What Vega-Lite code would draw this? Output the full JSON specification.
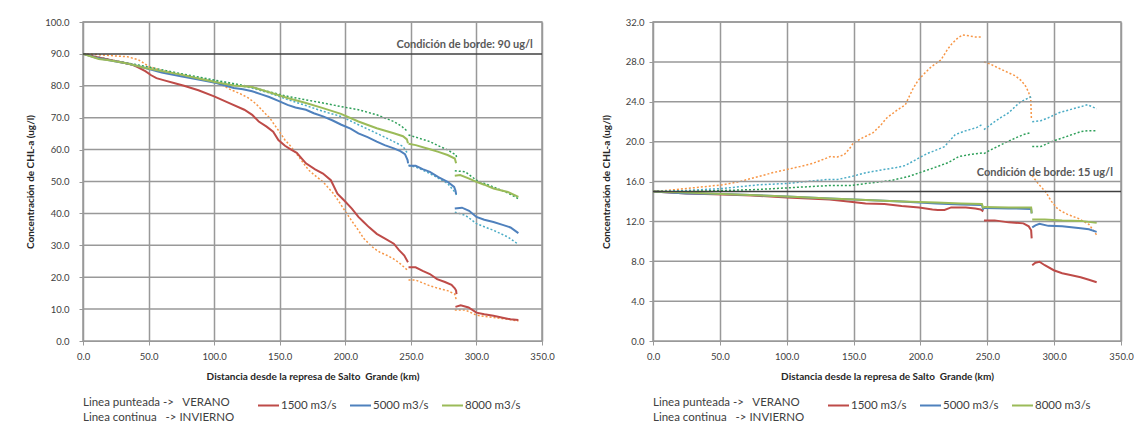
{
  "$schema": "https://vega.github.io/schema/vega-lite/v6.json",
  "padding": {"left": 24, "top": 16, "right": 0, "bottom": 0},
  "spacing": 45,
  "config": {
    "font": "Lato",
    "view": {"stroke": "#999999", "strokeWidth": 1.5},
    "axis": {
      "gridColor": "#999999", "gridWidth": 1.5, "gridOpacity": 1,
      "domainColor": "#999999", "tickColor": "#999999", "tickSize": 4,
      "labelFont": "Lato", "labelFontSize": 9.5, "labelColor": "#404040", "labelOverlap": false,
      "titleFont": "Lato", "titleFontSize": 10, "titleFontWeight": "bold", "titleColor": "#262626"
    },
    "axisX": {"labelPadding": 6, "titlePadding": 11, "labelFlush": false, "grid": true},
    "axisY": {"grid": false},
    "legend": {
      "orient": "bottom", "direction": "horizontal", "titleOrient": "left",
      "symbolType": "stroke", "symbolStrokeWidth": 2, "symbolSize": 441,
      "labelFont": "Lato", "labelFontSize": 11.5, "labelColor": "#404040", "labelOffset": 1,
      "titleFont": "Lato", "titleFontSize": 11.5, "titleFontWeight": "normal", "titleColor": "#404040",
      "titlePadding": 22, "columnPadding": 9, "offset": 12, "titleLineHeight": 15.5
    }
  },
  "resolve": {"scale": {"color": "independent"}, "legend": {"color": "independent"}},
  "datasets": {
    "izq": [
      {"serie":"1500 m3/s","tramo":1,"km":0,"conc":90},{"serie":"1500 m3/s","tramo":1,"km":10,"conc":89},{"serie":"1500 m3/s","tramo":1,"km":20,"conc":88.2},{"serie":"1500 m3/s","tramo":1,"km":30,"conc":87.3},{"serie":"1500 m3/s","tramo":1,"km":37,"conc":86.7},{"serie":"1500 m3/s","tramo":1,"km":42,"conc":85.8},{"serie":"1500 m3/s","tramo":1,"km":47.5,"conc":84.6},{"serie":"1500 m3/s","tramo":1,"km":52,"conc":83.3},{"serie":"1500 m3/s","tramo":1,"km":56,"conc":82.4},{"serie":"1500 m3/s","tramo":1,"km":62,"conc":81.7},{"serie":"1500 m3/s","tramo":1,"km":70,"conc":80.8},{"serie":"1500 m3/s","tramo":1,"km":77,"conc":80},{"serie":"1500 m3/s","tramo":1,"km":88,"conc":78.6},{"serie":"1500 m3/s","tramo":1,"km":100,"conc":76.7},{"serie":"1500 m3/s","tramo":1,"km":112,"conc":74.5},{"serie":"1500 m3/s","tramo":1,"km":123,"conc":72.5},{"serie":"1500 m3/s","tramo":1,"km":129,"conc":70.9},{"serie":"1500 m3/s","tramo":1,"km":134,"conc":68.8},{"serie":"1500 m3/s","tramo":1,"km":140,"conc":67.2},{"serie":"1500 m3/s","tramo":1,"km":145,"conc":65.6},{"serie":"1500 m3/s","tramo":1,"km":149,"conc":63},{"serie":"1500 m3/s","tramo":1,"km":154,"conc":61.2},{"serie":"1500 m3/s","tramo":1,"km":159,"conc":59.9},{"serie":"1500 m3/s","tramo":1,"km":163,"conc":59},{"serie":"1500 m3/s","tramo":1,"km":170,"conc":55.7},{"serie":"1500 m3/s","tramo":1,"km":177,"conc":53.8},{"serie":"1500 m3/s","tramo":1,"km":183,"conc":52.5},{"serie":"1500 m3/s","tramo":1,"km":189,"conc":50.4},{"serie":"1500 m3/s","tramo":1,"km":194,"conc":46.2},{"serie":"1500 m3/s","tramo":1,"km":199,"conc":44.1},{"serie":"1500 m3/s","tramo":1,"km":205,"conc":41.5},{"serie":"1500 m3/s","tramo":1,"km":210,"conc":38.9},{"serie":"1500 m3/s","tramo":1,"km":214,"conc":37.3},{"serie":"1500 m3/s","tramo":1,"km":218,"conc":35.7},{"serie":"1500 m3/s","tramo":1,"km":224,"conc":33.6},{"serie":"1500 m3/s","tramo":1,"km":230,"conc":32.2},{"serie":"1500 m3/s","tramo":1,"km":237,"conc":30.5},{"serie":"1500 m3/s","tramo":1,"km":241,"conc":28.5},{"serie":"1500 m3/s","tramo":1,"km":245,"conc":26.8},{"serie":"1500 m3/s","tramo":1,"km":247.8,"conc":24.7},
      {"serie":"1500 m3/s","tramo":2,"km":248.2,"conc":23.1},{"serie":"1500 m3/s","tramo":2,"km":253.6,"conc":23.1},{"serie":"1500 m3/s","tramo":2,"km":259,"conc":22},{"serie":"1500 m3/s","tramo":2,"km":264.5,"conc":21},{"serie":"1500 m3/s","tramo":2,"km":270,"conc":19.4},{"serie":"1500 m3/s","tramo":2,"km":276,"conc":18.5},{"serie":"1500 m3/s","tramo":2,"km":281,"conc":17.6},{"serie":"1500 m3/s","tramo":2,"km":283.5,"conc":16.5},{"serie":"1500 m3/s","tramo":2,"km":284.5,"conc":15.8},{"serie":"1500 m3/s","tramo":2,"km":284.8,"conc":14.7},
      {"serie":"1500 m3/s","tramo":3,"km":284,"conc":10.7},{"serie":"1500 m3/s","tramo":3,"km":288,"conc":11.2},{"serie":"1500 m3/s","tramo":3,"km":294,"conc":10.5},{"serie":"1500 m3/s","tramo":3,"km":300,"conc":8.9},{"serie":"1500 m3/s","tramo":3,"km":306,"conc":8.4},{"serie":"1500 m3/s","tramo":3,"km":313,"conc":7.9},{"serie":"1500 m3/s","tramo":3,"km":320,"conc":7.3},{"serie":"1500 m3/s","tramo":3,"km":326,"conc":6.8},{"serie":"1500 m3/s","tramo":3,"km":332,"conc":6.6},

      {"serie":"5000 m3/s","tramo":1,"km":0,"conc":90},{"serie":"5000 m3/s","tramo":1,"km":10,"conc":88.8},{"serie":"5000 m3/s","tramo":1,"km":20,"conc":88},{"serie":"5000 m3/s","tramo":1,"km":35,"conc":86.9},{"serie":"5000 m3/s","tramo":1,"km":47.5,"conc":85.6},{"serie":"5000 m3/s","tramo":1,"km":60,"conc":84.2},{"serie":"5000 m3/s","tramo":1,"km":74.6,"conc":83},{"serie":"5000 m3/s","tramo":1,"km":90,"conc":81.8},{"serie":"5000 m3/s","tramo":1,"km":101.7,"conc":80.9},{"serie":"5000 m3/s","tramo":1,"km":115,"conc":79.3},{"serie":"5000 m3/s","tramo":1,"km":122,"conc":78.9},{"serie":"5000 m3/s","tramo":1,"km":129,"conc":78.3},{"serie":"5000 m3/s","tramo":1,"km":136,"conc":77.3},{"serie":"5000 m3/s","tramo":1,"km":142,"conc":76.5},{"serie":"5000 m3/s","tramo":1,"km":149,"conc":75.3},{"serie":"5000 m3/s","tramo":1,"km":156,"conc":74},{"serie":"5000 m3/s","tramo":1,"km":162,"conc":73.2},{"serie":"5000 m3/s","tramo":1,"km":170,"conc":72.5},{"serie":"5000 m3/s","tramo":1,"km":176,"conc":71.4},{"serie":"5000 m3/s","tramo":1,"km":183,"conc":70.4},{"serie":"5000 m3/s","tramo":1,"km":190,"conc":69.2},{"serie":"5000 m3/s","tramo":1,"km":197,"conc":67.8},{"serie":"5000 m3/s","tramo":1,"km":204,"conc":66.6},{"serie":"5000 m3/s","tramo":1,"km":210,"conc":65.1},{"serie":"5000 m3/s","tramo":1,"km":217,"conc":63.9},{"serie":"5000 m3/s","tramo":1,"km":224,"conc":62.5},{"serie":"5000 m3/s","tramo":1,"km":230,"conc":61.4},{"serie":"5000 m3/s","tramo":1,"km":237,"conc":60.4},{"serie":"5000 m3/s","tramo":1,"km":242,"conc":59.5},{"serie":"5000 m3/s","tramo":1,"km":245.5,"conc":58.6},{"serie":"5000 m3/s","tramo":1,"km":247.5,"conc":56.7},{"serie":"5000 m3/s","tramo":1,"km":247.9,"conc":55.7},
      {"serie":"5000 m3/s","tramo":2,"km":248.3,"conc":54.9},{"serie":"5000 m3/s","tramo":2,"km":253.7,"conc":54.9},{"serie":"5000 m3/s","tramo":2,"km":259,"conc":53.9},{"serie":"5000 m3/s","tramo":2,"km":264.5,"conc":53},{"serie":"5000 m3/s","tramo":2,"km":271,"conc":51.4},{"serie":"5000 m3/s","tramo":2,"km":278,"conc":49.9},{"serie":"5000 m3/s","tramo":2,"km":283,"conc":48.3},{"serie":"5000 m3/s","tramo":2,"km":284,"conc":47.2},{"serie":"5000 m3/s","tramo":2,"km":284.5,"conc":46},
      {"serie":"5000 m3/s","tramo":3,"km":283.5,"conc":41.5},{"serie":"5000 m3/s","tramo":3,"km":289,"conc":41.8},{"serie":"5000 m3/s","tramo":3,"km":294.4,"conc":40.8},{"serie":"5000 m3/s","tramo":3,"km":300,"conc":38.9},{"serie":"5000 m3/s","tramo":3,"km":306,"conc":38},{"serie":"5000 m3/s","tramo":3,"km":313,"conc":37.3},{"serie":"5000 m3/s","tramo":3,"km":320,"conc":36.4},{"serie":"5000 m3/s","tramo":3,"km":326,"conc":35.6},{"serie":"5000 m3/s","tramo":3,"km":332,"conc":33.8},

      {"serie":"8000 m3/s","tramo":1,"km":0,"conc":90},{"serie":"8000 m3/s","tramo":1,"km":12,"conc":88.4},{"serie":"8000 m3/s","tramo":1,"km":20,"conc":88},{"serie":"8000 m3/s","tramo":1,"km":34,"conc":87},{"serie":"8000 m3/s","tramo":1,"km":47.5,"conc":85.6},{"serie":"8000 m3/s","tramo":1,"km":60,"conc":84.6},{"serie":"8000 m3/s","tramo":1,"km":74.6,"conc":83.5},{"serie":"8000 m3/s","tramo":1,"km":88,"conc":82.3},{"serie":"8000 m3/s","tramo":1,"km":101.7,"conc":81.1},{"serie":"8000 m3/s","tramo":1,"km":115,"conc":80.1},{"serie":"8000 m3/s","tramo":1,"km":128.9,"conc":79.6},{"serie":"8000 m3/s","tramo":1,"km":142,"conc":78},{"serie":"8000 m3/s","tramo":1,"km":156,"conc":76.2},{"serie":"8000 m3/s","tramo":1,"km":170,"conc":74.6},{"serie":"8000 m3/s","tramo":1,"km":183,"conc":73},{"serie":"8000 m3/s","tramo":1,"km":196.7,"conc":71.2},{"serie":"8000 m3/s","tramo":1,"km":210,"conc":68.8},{"serie":"8000 m3/s","tramo":1,"km":224,"conc":66.7},{"serie":"8000 m3/s","tramo":1,"km":237,"conc":65.1},{"serie":"8000 m3/s","tramo":1,"km":244,"conc":64.2},{"serie":"8000 m3/s","tramo":1,"km":247,"conc":63.2},{"serie":"8000 m3/s","tramo":1,"km":247.8,"conc":62},
      {"serie":"8000 m3/s","tramo":2,"km":248.2,"conc":61.8},{"serie":"8000 m3/s","tramo":2,"km":253.7,"conc":61.4},{"serie":"8000 m3/s","tramo":2,"km":264.5,"conc":60.1},{"serie":"8000 m3/s","tramo":2,"km":271,"conc":59.3},{"serie":"8000 m3/s","tramo":2,"km":278,"conc":58.3},{"serie":"8000 m3/s","tramo":2,"km":283.5,"conc":57.2},{"serie":"8000 m3/s","tramo":2,"km":284.5,"conc":55.7},
      {"serie":"8000 m3/s","tramo":3,"km":283.5,"conc":51.8},{"serie":"8000 m3/s","tramo":3,"km":287.6,"conc":52},{"serie":"8000 m3/s","tramo":3,"km":294,"conc":51},{"serie":"8000 m3/s","tramo":3,"km":300,"conc":49.9},{"serie":"8000 m3/s","tramo":3,"km":306,"conc":49},{"serie":"8000 m3/s","tramo":3,"km":313,"conc":47.8},{"serie":"8000 m3/s","tramo":3,"km":324,"conc":46.7},{"serie":"8000 m3/s","tramo":3,"km":332,"conc":45.2},

      {"serie":"1500 verano","tramo":1,"km":0,"conc":90},{"serie":"1500 verano","tramo":1,"km":10,"conc":89.8},{"serie":"1500 verano","tramo":1,"km":20,"conc":89.5},{"serie":"1500 verano","tramo":1,"km":34,"conc":89.1},{"serie":"1500 verano","tramo":1,"km":42,"conc":88.2},{"serie":"1500 verano","tramo":1,"km":46,"conc":87.2},{"serie":"1500 verano","tramo":1,"km":50,"conc":86.1},{"serie":"1500 verano","tramo":1,"km":60,"conc":84.8},{"serie":"1500 verano","tramo":1,"km":74.6,"conc":83.5},{"serie":"1500 verano","tramo":1,"km":88,"conc":82.3},{"serie":"1500 verano","tramo":1,"km":101.7,"conc":81.1},{"serie":"1500 verano","tramo":1,"km":107,"conc":80},{"serie":"1500 verano","tramo":1,"km":112.6,"conc":78.8},{"serie":"1500 verano","tramo":1,"km":120,"conc":77.5},{"serie":"1500 verano","tramo":1,"km":126,"conc":76.2},{"serie":"1500 verano","tramo":1,"km":130,"conc":75},{"serie":"1500 verano","tramo":1,"km":134,"conc":73.5},{"serie":"1500 verano","tramo":1,"km":138,"conc":71.7},{"serie":"1500 verano","tramo":1,"km":142.4,"conc":69.9},{"serie":"1500 verano","tramo":1,"km":146,"conc":67.8},{"serie":"1500 verano","tramo":1,"km":150.6,"conc":65.1},{"serie":"1500 verano","tramo":1,"km":154,"conc":63},{"serie":"1500 verano","tramo":1,"km":158.7,"conc":60.9},{"serie":"1500 verano","tramo":1,"km":165,"conc":57.5},{"serie":"1500 verano","tramo":1,"km":172,"conc":53.6},{"serie":"1500 verano","tramo":1,"km":178,"conc":51.5},{"serie":"1500 verano","tramo":1,"km":183,"conc":49.9},{"serie":"1500 verano","tramo":1,"km":187,"conc":48},{"serie":"1500 verano","tramo":1,"km":191,"conc":46.2},{"serie":"1500 verano","tramo":1,"km":195,"conc":43.8},{"serie":"1500 verano","tramo":1,"km":199.4,"conc":41},{"serie":"1500 verano","tramo":1,"km":205,"conc":37.6},{"serie":"1500 verano","tramo":1,"km":210,"conc":34.7},{"serie":"1500 verano","tramo":1,"km":214,"conc":32.2},{"serie":"1500 verano","tramo":1,"km":218,"conc":30.5},{"serie":"1500 verano","tramo":1,"km":222,"conc":29},{"serie":"1500 verano","tramo":1,"km":226.5,"conc":27.8},{"serie":"1500 verano","tramo":1,"km":232,"conc":26.8},{"serie":"1500 verano","tramo":1,"km":237,"conc":25.7},{"serie":"1500 verano","tramo":1,"km":242,"conc":24.2},{"serie":"1500 verano","tramo":1,"km":247.7,"conc":22.1},
      {"serie":"1500 verano","tramo":2,"km":248.2,"conc":19.1},{"serie":"1500 verano","tramo":2,"km":253.7,"conc":19.1},{"serie":"1500 verano","tramo":2,"km":259,"conc":18.2},{"serie":"1500 verano","tramo":2,"km":264.5,"conc":17.3},{"serie":"1500 verano","tramo":2,"km":271,"conc":16.5},{"serie":"1500 verano","tramo":2,"km":278,"conc":15.8},{"serie":"1500 verano","tramo":2,"km":283.5,"conc":14.7},{"serie":"1500 verano","tramo":2,"km":284.5,"conc":13.1},
      {"serie":"1500 verano","tramo":3,"km":283.5,"conc":9.7},{"serie":"1500 verano","tramo":3,"km":291.6,"conc":9.7},{"serie":"1500 verano","tramo":3,"km":300,"conc":8.1},{"serie":"1500 verano","tramo":3,"km":306,"conc":7.7},{"serie":"1500 verano","tramo":3,"km":313,"conc":7.4},{"serie":"1500 verano","tramo":3,"km":322,"conc":6.9},{"serie":"1500 verano","tramo":3,"km":332,"conc":6.3},

      {"serie":"5000 verano","tramo":1,"km":0,"conc":90},{"serie":"5000 verano","tramo":1,"km":20,"conc":88.2},{"serie":"5000 verano","tramo":1,"km":47.5,"conc":85.6},{"serie":"5000 verano","tramo":1,"km":74.6,"conc":83.5},{"serie":"5000 verano","tramo":1,"km":101.7,"conc":81.4},{"serie":"5000 verano","tramo":1,"km":128.9,"conc":79.3},{"serie":"5000 verano","tramo":1,"km":142.4,"conc":77.7},{"serie":"5000 verano","tramo":1,"km":156,"conc":75.7},{"serie":"5000 verano","tramo":1,"km":170,"conc":73.8},{"serie":"5000 verano","tramo":1,"km":183,"conc":72},{"serie":"5000 verano","tramo":1,"km":196.7,"conc":70.4},{"serie":"5000 verano","tramo":1,"km":210,"conc":67.8},{"serie":"5000 verano","tramo":1,"km":224,"conc":65.1},{"serie":"5000 verano","tramo":1,"km":237,"conc":62.5},{"serie":"5000 verano","tramo":1,"km":244,"conc":61},{"serie":"5000 verano","tramo":1,"km":247.5,"conc":58.8},
      {"serie":"5000 verano","tramo":2,"km":248.2,"conc":55.1},{"serie":"5000 verano","tramo":2,"km":256,"conc":54.2},{"serie":"5000 verano","tramo":2,"km":264.5,"conc":52.5},{"serie":"5000 verano","tramo":2,"km":271,"conc":51},{"serie":"5000 verano","tramo":2,"km":278,"conc":49.4},{"serie":"5000 verano","tramo":2,"km":284.5,"conc":46.2},{"serie":"5000 verano","tramo":2,"km":285,"conc":45.2},
      {"serie":"5000 verano","tramo":3,"km":283.5,"conc":40.4},{"serie":"5000 verano","tramo":3,"km":291.6,"conc":39.4},{"serie":"5000 verano","tramo":3,"km":300,"conc":36.8},{"serie":"5000 verano","tramo":3,"km":306,"conc":35.8},{"serie":"5000 verano","tramo":3,"km":313,"conc":34.7},{"serie":"5000 verano","tramo":3,"km":324,"conc":32.6},{"serie":"5000 verano","tramo":3,"km":332,"conc":30.3},

      {"serie":"8000 verano","tramo":1,"km":0,"conc":90},{"serie":"8000 verano","tramo":1,"km":20,"conc":88.2},{"serie":"8000 verano","tramo":1,"km":47.5,"conc":86.1},{"serie":"8000 verano","tramo":1,"km":74.6,"conc":83.8},{"serie":"8000 verano","tramo":1,"km":101.7,"conc":81.7},{"serie":"8000 verano","tramo":1,"km":128.9,"conc":79.6},{"serie":"8000 verano","tramo":1,"km":142,"conc":78.1},{"serie":"8000 verano","tramo":1,"km":156,"conc":76.7},{"serie":"8000 verano","tramo":1,"km":170,"conc":75.6},{"serie":"8000 verano","tramo":1,"km":183,"conc":74.6},{"serie":"8000 verano","tramo":1,"km":196.7,"conc":73.5},{"serie":"8000 verano","tramo":1,"km":210,"conc":72.5},{"serie":"8000 verano","tramo":1,"km":224,"conc":70.9},{"serie":"8000 verano","tramo":1,"km":237,"conc":68.8},{"serie":"8000 verano","tramo":1,"km":243,"conc":67.3},{"serie":"8000 verano","tramo":1,"km":247.5,"conc":65.7},
      {"serie":"8000 verano","tramo":2,"km":248.2,"conc":64.6},{"serie":"8000 verano","tramo":2,"km":256,"conc":63.6},{"serie":"8000 verano","tramo":2,"km":264.5,"conc":62.5},{"serie":"8000 verano","tramo":2,"km":271,"conc":61.2},{"serie":"8000 verano","tramo":2,"km":278,"conc":59.9},{"serie":"8000 verano","tramo":2,"km":284.5,"conc":58.3},{"serie":"8000 verano","tramo":2,"km":285,"conc":57.2},
      {"serie":"8000 verano","tramo":3,"km":283.5,"conc":53.4},{"serie":"8000 verano","tramo":3,"km":291.6,"conc":53},{"serie":"8000 verano","tramo":3,"km":300,"conc":50.4},{"serie":"8000 verano","tramo":3,"km":306,"conc":49.4},{"serie":"8000 verano","tramo":3,"km":313,"conc":48.3},{"serie":"8000 verano","tramo":3,"km":324,"conc":46.4},{"serie":"8000 verano","tramo":3,"km":332,"conc":44.6}
    ],
    "der": [
      {"serie":"1500 m3/s","tramo":1,"km":0,"conc":15},{"serie":"1500 m3/s","tramo":1,"km":25,"conc":14.8},{"serie":"1500 m3/s","tramo":1,"km":52,"conc":14.7},{"serie":"1500 m3/s","tramo":1,"km":74,"conc":14.6},{"serie":"1500 m3/s","tramo":1,"km":100,"conc":14.4},{"serie":"1500 m3/s","tramo":1,"km":132,"conc":14.2},{"serie":"1500 m3/s","tramo":1,"km":146,"conc":14},{"serie":"1500 m3/s","tramo":1,"km":159,"conc":13.8},{"serie":"1500 m3/s","tramo":1,"km":173,"conc":13.75},{"serie":"1500 m3/s","tramo":1,"km":186,"conc":13.55},{"serie":"1500 m3/s","tramo":1,"km":199,"conc":13.4},{"serie":"1500 m3/s","tramo":1,"km":209,"conc":13.2},{"serie":"1500 m3/s","tramo":1,"km":213,"conc":13.15},{"serie":"1500 m3/s","tramo":1,"km":218,"conc":13.15},{"serie":"1500 m3/s","tramo":1,"km":223,"conc":13.4},{"serie":"1500 m3/s","tramo":1,"km":234,"conc":13.4},{"serie":"1500 m3/s","tramo":1,"km":241,"conc":13.3},{"serie":"1500 m3/s","tramo":1,"km":245,"conc":13.2},{"serie":"1500 m3/s","tramo":1,"km":247,"conc":13},
      {"serie":"1500 m3/s","tramo":2,"km":247.5,"conc":12.1},{"serie":"1500 m3/s","tramo":2,"km":255.5,"conc":12.1},{"serie":"1500 m3/s","tramo":2,"km":266,"conc":11.9},{"serie":"1500 m3/s","tramo":2,"km":277,"conc":11.8},{"serie":"1500 m3/s","tramo":2,"km":281,"conc":11.5},{"serie":"1500 m3/s","tramo":2,"km":282.8,"conc":11.1},{"serie":"1500 m3/s","tramo":2,"km":283.2,"conc":10.3},
      {"serie":"1500 m3/s","tramo":3,"km":283.6,"conc":7.6},{"serie":"1500 m3/s","tramo":3,"km":286,"conc":7.85},{"serie":"1500 m3/s","tramo":3,"km":289,"conc":7.95},{"serie":"1500 m3/s","tramo":3,"km":293,"conc":7.6},{"serie":"1500 m3/s","tramo":3,"km":299.7,"conc":7.1},{"serie":"1500 m3/s","tramo":3,"km":306,"conc":6.8},{"serie":"1500 m3/s","tramo":3,"km":313,"conc":6.6},{"serie":"1500 m3/s","tramo":3,"km":319.8,"conc":6.4},{"serie":"1500 m3/s","tramo":3,"km":326,"conc":6.15},{"serie":"1500 m3/s","tramo":3,"km":331.8,"conc":5.9},

      {"serie":"5000 m3/s","tramo":1,"km":0,"conc":15},{"serie":"5000 m3/s","tramo":1,"km":25,"conc":14.8},{"serie":"5000 m3/s","tramo":1,"km":52,"conc":14.75},{"serie":"5000 m3/s","tramo":1,"km":100,"conc":14.5},{"serie":"5000 m3/s","tramo":1,"km":132,"conc":14.3},{"serie":"5000 m3/s","tramo":1,"km":159,"conc":14.15},{"serie":"5000 m3/s","tramo":1,"km":186,"conc":14},{"serie":"5000 m3/s","tramo":1,"km":212,"conc":13.8},{"serie":"5000 m3/s","tramo":1,"km":230,"conc":13.7},{"serie":"5000 m3/s","tramo":1,"km":246,"conc":13.65},{"serie":"5000 m3/s","tramo":1,"km":247,"conc":13.15},
      {"serie":"5000 m3/s","tramo":2,"km":247.5,"conc":13.35},{"serie":"5000 m3/s","tramo":2,"km":266,"conc":13.3},{"serie":"5000 m3/s","tramo":2,"km":282.8,"conc":13.25},{"serie":"5000 m3/s","tramo":2,"km":283.2,"conc":12.8},
      {"serie":"5000 m3/s","tramo":3,"km":283.6,"conc":11.4},{"serie":"5000 m3/s","tramo":3,"km":286,"conc":11.6},{"serie":"5000 m3/s","tramo":3,"km":289,"conc":11.75},{"serie":"5000 m3/s","tramo":3,"km":295.7,"conc":11.55},{"serie":"5000 m3/s","tramo":3,"km":306,"conc":11.5},{"serie":"5000 m3/s","tramo":3,"km":319.8,"conc":11.3},{"serie":"5000 m3/s","tramo":3,"km":326,"conc":11.2},{"serie":"5000 m3/s","tramo":3,"km":331.8,"conc":10.95},

      {"serie":"8000 m3/s","tramo":1,"km":0,"conc":15},{"serie":"8000 m3/s","tramo":1,"km":25,"conc":14.9},{"serie":"8000 m3/s","tramo":1,"km":52,"conc":14.75},{"serie":"8000 m3/s","tramo":1,"km":100,"conc":14.5},{"serie":"8000 m3/s","tramo":1,"km":132,"conc":14.3},{"serie":"8000 m3/s","tramo":1,"km":159,"conc":14.15},{"serie":"8000 m3/s","tramo":1,"km":186,"conc":14},{"serie":"8000 m3/s","tramo":1,"km":212,"conc":13.9},{"serie":"8000 m3/s","tramo":1,"km":230,"conc":13.8},{"serie":"8000 m3/s","tramo":1,"km":246,"conc":13.75},{"serie":"8000 m3/s","tramo":1,"km":247,"conc":13.3},
      {"serie":"8000 m3/s","tramo":2,"km":247.5,"conc":13.45},{"serie":"8000 m3/s","tramo":2,"km":266,"conc":13.4},{"serie":"8000 m3/s","tramo":2,"km":282.8,"conc":13.4},{"serie":"8000 m3/s","tramo":2,"km":283.2,"conc":12.8},
      {"serie":"8000 m3/s","tramo":3,"km":283.6,"conc":12.2},{"serie":"8000 m3/s","tramo":3,"km":293,"conc":12.2},{"serie":"8000 m3/s","tramo":3,"km":306,"conc":12.1},{"serie":"8000 m3/s","tramo":3,"km":319.8,"conc":12.05},{"serie":"8000 m3/s","tramo":3,"km":331.8,"conc":11.85},

      {"serie":"1500 verano","tramo":1,"km":0,"conc":15},{"serie":"1500 verano","tramo":1,"km":10,"conc":15.1},{"serie":"1500 verano","tramo":1,"km":25,"conc":15.3},{"serie":"1500 verano","tramo":1,"km":40,"conc":15.5},{"serie":"1500 verano","tramo":1,"km":52,"conc":15.67},{"serie":"1500 verano","tramo":1,"km":65,"conc":16},{"serie":"1500 verano","tramo":1,"km":79,"conc":16.5},{"serie":"1500 verano","tramo":1,"km":90,"conc":16.9},{"serie":"1500 verano","tramo":1,"km":100,"conc":17.2},{"serie":"1500 verano","tramo":1,"km":110,"conc":17.5},{"serie":"1500 verano","tramo":1,"km":119,"conc":17.8},{"serie":"1500 verano","tramo":1,"km":127,"conc":18.2},{"serie":"1500 verano","tramo":1,"km":132.5,"conc":18.5},{"serie":"1500 verano","tramo":1,"km":137.8,"conc":18.45},{"serie":"1500 verano","tramo":1,"km":143,"conc":18.7},{"serie":"1500 verano","tramo":1,"km":147,"conc":19.3},{"serie":"1500 verano","tramo":1,"km":150,"conc":19.9},{"serie":"1500 verano","tramo":1,"km":157,"conc":20.4},{"serie":"1500 verano","tramo":1,"km":164.6,"conc":20.9},{"serie":"1500 verano","tramo":1,"km":170,"conc":21.6},{"serie":"1500 verano","tramo":1,"km":175,"conc":22.4},{"serie":"1500 verano","tramo":1,"km":182,"conc":23.1},{"serie":"1500 verano","tramo":1,"km":188.7,"conc":23.7},{"serie":"1500 verano","tramo":1,"km":194,"conc":25.2},{"serie":"1500 verano","tramo":1,"km":198,"conc":26.1},{"serie":"1500 verano","tramo":1,"km":202,"conc":26.7},{"serie":"1500 verano","tramo":1,"km":208,"conc":27.5},{"serie":"1500 verano","tramo":1,"km":215.4,"conc":28.2},{"serie":"1500 verano","tramo":1,"km":220,"conc":29.2},{"serie":"1500 verano","tramo":1,"km":223.4,"conc":29.8},{"serie":"1500 verano","tramo":1,"km":228,"conc":30.4},{"serie":"1500 verano","tramo":1,"km":231.5,"conc":30.7},{"serie":"1500 verano","tramo":1,"km":236.8,"conc":30.6},{"serie":"1500 verano","tramo":1,"km":241,"conc":30.5},{"serie":"1500 verano","tramo":1,"km":246,"conc":30.5},
      {"serie":"1500 verano","tramo":2,"km":247.5,"conc":28},{"serie":"1500 verano","tramo":2,"km":252,"conc":27.8},{"serie":"1500 verano","tramo":2,"km":258,"conc":27.4},{"serie":"1500 verano","tramo":2,"km":266,"conc":26.9},{"serie":"1500 verano","tramo":2,"km":271,"conc":26.6},{"serie":"1500 verano","tramo":2,"km":275.6,"conc":26.1},{"serie":"1500 verano","tramo":2,"km":279,"conc":25.5},{"serie":"1500 verano","tramo":2,"km":281,"conc":24.9},{"serie":"1500 verano","tramo":2,"km":282.5,"conc":24.3},{"serie":"1500 verano","tramo":2,"km":283,"conc":22.2},
      {"serie":"1500 verano","tramo":3,"km":283.5,"conc":16.6},{"serie":"1500 verano","tramo":3,"km":288,"conc":15.8},{"serie":"1500 verano","tramo":3,"km":294,"conc":14.9},{"serie":"1500 verano","tramo":3,"km":298,"conc":14},{"serie":"1500 verano","tramo":3,"km":303,"conc":13.2},{"serie":"1500 verano","tramo":3,"km":310,"conc":12.7},{"serie":"1500 verano","tramo":3,"km":318,"conc":12.3},{"serie":"1500 verano","tramo":3,"km":326,"conc":11.7},{"serie":"1500 verano","tramo":3,"km":332,"conc":10.6},

      {"serie":"5000 verano","tramo":1,"km":0,"conc":15},{"serie":"5000 verano","tramo":1,"km":25,"conc":15.1},{"serie":"5000 verano","tramo":1,"km":52,"conc":15.3},{"serie":"5000 verano","tramo":1,"km":79,"conc":15.67},{"serie":"5000 verano","tramo":1,"km":100,"conc":15.8},{"serie":"5000 verano","tramo":1,"km":115,"conc":16},{"serie":"5000 verano","tramo":1,"km":130,"conc":16.2},{"serie":"5000 verano","tramo":1,"km":138,"conc":16.2},{"serie":"5000 verano","tramo":1,"km":148.5,"conc":16.5},{"serie":"5000 verano","tramo":1,"km":160,"conc":16.9},{"serie":"5000 verano","tramo":1,"km":172.6,"conc":17.2},{"serie":"5000 verano","tramo":1,"km":182,"conc":17.4},{"serie":"5000 verano","tramo":1,"km":188.7,"conc":17.6},{"serie":"5000 verano","tramo":1,"km":194,"conc":18},{"serie":"5000 verano","tramo":1,"km":199.4,"conc":18.4},{"serie":"5000 verano","tramo":1,"km":205,"conc":18.8},{"serie":"5000 verano","tramo":1,"km":212.7,"conc":19.2},{"serie":"5000 verano","tramo":1,"km":218,"conc":19.5},{"serie":"5000 verano","tramo":1,"km":222,"conc":20.1},{"serie":"5000 verano","tramo":1,"km":226,"conc":20.7},{"serie":"5000 verano","tramo":1,"km":234,"conc":21.1},{"serie":"5000 verano","tramo":1,"km":242,"conc":21.4},{"serie":"5000 verano","tramo":1,"km":246,"conc":21.7},
      {"serie":"5000 verano","tramo":2,"km":247.5,"conc":21.2},{"serie":"5000 verano","tramo":2,"km":255.5,"conc":22},{"serie":"5000 verano","tramo":2,"km":260,"conc":22.4},{"serie":"5000 verano","tramo":2,"km":266,"conc":22.9},{"serie":"5000 verano","tramo":2,"km":274,"conc":23.9},{"serie":"5000 verano","tramo":2,"km":278,"conc":24.2},{"serie":"5000 verano","tramo":2,"km":282.8,"conc":24.5},
      {"serie":"5000 verano","tramo":3,"km":283.6,"conc":22},{"serie":"5000 verano","tramo":3,"km":290,"conc":22.1},{"serie":"5000 verano","tramo":3,"km":295.7,"conc":22.4},{"serie":"5000 verano","tramo":3,"km":303.7,"conc":22.9},{"serie":"5000 verano","tramo":3,"km":311.7,"conc":23.2},{"serie":"5000 verano","tramo":3,"km":319.8,"conc":23.5},{"serie":"5000 verano","tramo":3,"km":325,"conc":23.7},{"serie":"5000 verano","tramo":3,"km":331.8,"conc":23.3},

      {"serie":"8000 verano","tramo":1,"km":0,"conc":15},{"serie":"8000 verano","tramo":1,"km":25,"conc":15},{"serie":"8000 verano","tramo":1,"km":52,"conc":15.1},{"serie":"8000 verano","tramo":1,"km":79,"conc":15.2},{"serie":"8000 verano","tramo":1,"km":105.7,"conc":15.4},{"serie":"8000 verano","tramo":1,"km":132.5,"conc":15.6},{"serie":"8000 verano","tramo":1,"km":148.5,"conc":15.6},{"serie":"8000 verano","tramo":1,"km":159,"conc":15.8},{"serie":"8000 verano","tramo":1,"km":178,"conc":16.1},{"serie":"8000 verano","tramo":1,"km":191,"conc":16.5},{"serie":"8000 verano","tramo":1,"km":202,"conc":17},{"serie":"8000 verano","tramo":1,"km":212.7,"conc":17.5},{"serie":"8000 verano","tramo":1,"km":220.8,"conc":17.9},{"serie":"8000 verano","tramo":1,"km":228.8,"conc":18.5},{"serie":"8000 verano","tramo":1,"km":236.8,"conc":18.7},{"serie":"8000 verano","tramo":1,"km":246,"conc":18.85},
      {"serie":"8000 verano","tramo":2,"km":247.5,"conc":18.8},{"serie":"8000 verano","tramo":2,"km":252.9,"conc":19.2},{"serie":"8000 verano","tramo":2,"km":263.6,"conc":19.9},{"serie":"8000 verano","tramo":2,"km":271.6,"conc":20.4},{"serie":"8000 verano","tramo":2,"km":277,"conc":20.7},{"serie":"8000 verano","tramo":2,"km":282.8,"conc":20.9},
      {"serie":"8000 verano","tramo":3,"km":283.6,"conc":19.5},{"serie":"8000 verano","tramo":3,"km":290,"conc":19.5},{"serie":"8000 verano","tramo":3,"km":298,"conc":20},{"serie":"8000 verano","tramo":3,"km":309,"conc":20.5},{"serie":"8000 verano","tramo":3,"km":319.8,"conc":21},{"serie":"8000 verano","tramo":3,"km":325,"conc":21.1},{"serie":"8000 verano","tramo":3,"km":331.8,"conc":21.1}
    ]
  },
  "hconcat": [
    {
      "width": 459, "height": 319,
      "layer": [
        {
          "data": {"name": "izq"},
          "transform": [{"filter": "indexof(datum.serie, 'verano') >= 0"}],
          "mark": {"type": "line", "strokeWidth": 1.5, "strokeDash": [2, 2]},
          "encoding": {
            "x": {"field": "km", "type": "quantitative", "scale": {"domain": [0, 350], "nice": false}, "axis": {"values": [0, 50, 100, 150, 200, 250, 300, 350], "format": ".1f"}, "title": "Distancia desde la represa de Salto\u00a0 Grande (km)"},
            "y": {"field": "conc", "type": "quantitative", "scale": {"domain": [0, 100], "nice": false}, "axis": {"values": [0, 10, 20, 30, 40, 50, 60, 70, 80, 90, 100], "format": ".1f", "labelPadding": 10, "titlePadding": 9, "grid": false}, "title": "Concentración de CHL-a (ug/l)"},
            "color": {"field": "serie", "type": "nominal",
              "scale": {"domain": ["1500 m3/s", "5000 m3/s", "8000 m3/s", "1500 verano", "5000 verano", "8000 verano"], "range": ["#BE4B48", "#4F81BD", "#9BBB59", "#F79646", "#4BACC6", "#2FA05A"]},
              "legend": {"values": ["1500 m3/s", "5000 m3/s", "8000 m3/s"], "title": ["", "Linea punteada ->\u00a0\u00a0 VERANO", "Linea continua\u00a0\u00a0 -> INVIERNO"], "symbolDash": [1, 0]}},
            "detail": {"field": "tramo", "type": "nominal"}
          }
        },
        {
          "data": {"values": [{"conc": 10}, {"conc": 20}, {"conc": 30}, {"conc": 40}, {"conc": 50}, {"conc": 60}, {"conc": 70}, {"conc": 80}, {"conc": 100}]},
          "mark": {"type": "rule", "color": "#999999", "strokeWidth": 1.5},
          "encoding": {
            "y": {"field": "conc", "type": "quantitative", "scale": {"domain": [0, 100], "nice": false}, "axis": {"values": [0, 10, 20, 30, 40, 50, 60, 70, 80, 90, 100], "format": ".1f", "labelPadding": 10, "titlePadding": 9, "grid": false}, "title": "Concentración de CHL-a (ug/l)"}
          }
        },
        {
          "data": {"name": "izq"},
          "transform": [{"filter": "indexof(datum.serie, 'verano') < 0"}],
          "mark": {"type": "line", "strokeWidth": 2},
          "encoding": {
            "x": {"field": "km", "type": "quantitative", "scale": {"domain": [0, 350], "nice": false}, "axis": {"values": [0, 50, 100, 150, 200, 250, 300, 350], "format": ".1f"}, "title": "Distancia desde la represa de Salto\u00a0 Grande (km)"},
            "y": {"field": "conc", "type": "quantitative", "scale": {"domain": [0, 100], "nice": false}, "axis": {"values": [0, 10, 20, 30, 40, 50, 60, 70, 80, 90, 100], "format": ".1f", "labelPadding": 10, "titlePadding": 9, "grid": false}, "title": "Concentración de CHL-a (ug/l)"},
            "color": {"field": "serie", "type": "nominal",
              "scale": {"domain": ["1500 m3/s", "5000 m3/s", "8000 m3/s", "1500 verano", "5000 verano", "8000 verano"], "range": ["#BE4B48", "#4F81BD", "#9BBB59", "#F79646", "#4BACC6", "#2FA05A"]},
              "legend": {"values": ["1500 m3/s", "5000 m3/s", "8000 m3/s"], "title": ["", "Linea punteada ->\u00a0\u00a0 VERANO", "Linea continua\u00a0\u00a0 -> INVIERNO"], "symbolDash": [1, 0]}},
            "detail": {"field": "tramo", "type": "nominal"}
          }
        },
        {
          "data": {"values": [{"conc": 90}]},
          "mark": {"type": "rule", "color": "#404040", "strokeWidth": 1.5},
          "encoding": {
            "y": {"field": "conc", "type": "quantitative", "scale": {"domain": [0, 100], "nice": false}, "axis": {"values": [0, 10, 20, 30, 40, 50, 60, 70, 80, 90, 100], "format": ".1f", "labelPadding": 10, "titlePadding": 9, "grid": false}, "title": "Concentración de CHL-a (ug/l)"}
          }
        },
        {
          "data": {"values": [{"conc": 90, "km": 343, "texto": "Condición de borde: 90 ug/l"}]},
          "mark": {"type": "text", "align": "right", "baseline": "middle", "dy": -9, "fontSize": 11, "fontWeight": "bold", "color": "#595959", "font": "Lato"},
          "encoding": {
            "x": {"field": "km", "type": "quantitative", "scale": {"domain": [0, 350], "nice": false}, "axis": {"values": [0, 50, 100, 150, 200, 250, 300, 350], "format": ".1f"}, "title": "Distancia desde la represa de Salto\u00a0 Grande (km)"},
            "y": {"field": "conc", "type": "quantitative", "scale": {"domain": [0, 100], "nice": false}, "axis": {"values": [0, 10, 20, 30, 40, 50, 60, 70, 80, 90, 100], "format": ".1f", "labelPadding": 10, "titlePadding": 9, "grid": false}, "title": "Concentración de CHL-a (ug/l)"},
            "text": {"field": "texto"}
          }
        }
      ]
    },
    {
      "width": 468, "height": 319,
      "layer": [
        {
          "data": {"name": "der"},
          "transform": [{"filter": "indexof(datum.serie, 'verano') >= 0"}],
          "mark": {"type": "line", "strokeWidth": 1.5, "strokeDash": [2, 2]},
          "encoding": {
            "x": {"field": "km", "type": "quantitative", "scale": {"domain": [0, 350], "nice": false}, "axis": {"values": [0, 50, 100, 150, 200, 250, 300, 350], "format": ".1f"}, "title": "Distancia desde la represa de Salto\u00a0 Grande (km)"},
            "y": {"field": "conc", "type": "quantitative", "scale": {"domain": [0, 32], "nice": false}, "axis": {"values": [0, 4, 8, 12, 16, 20, 24, 28, 32], "format": ".1f", "labelPadding": 5, "titlePadding": 14, "grid": false}, "title": "Concentración de CHL-a (ug/l)"},
            "color": {"field": "serie", "type": "nominal",
              "scale": {"domain": ["1500 m3/s", "5000 m3/s", "8000 m3/s", "1500 verano", "5000 verano", "8000 verano"], "range": ["#BE4B48", "#4F81BD", "#9BBB59", "#F79646", "#4BACC6", "#2FA05A"]},
              "legend": {"values": ["1500 m3/s", "5000 m3/s", "8000 m3/s"], "title": ["", "Linea punteada ->\u00a0\u00a0 VERANO", "Linea continua\u00a0\u00a0 -> INVIERNO"], "symbolDash": [1, 0]}},
            "detail": {"field": "tramo", "type": "nominal"}
          }
        },
        {
          "data": {"values": [{"conc": 4}, {"conc": 8}, {"conc": 12}, {"conc": 16}, {"conc": 20}, {"conc": 24}, {"conc": 28}, {"conc": 32}]},
          "mark": {"type": "rule", "color": "#999999", "strokeWidth": 1.5},
          "encoding": {
            "y": {"field": "conc", "type": "quantitative", "scale": {"domain": [0, 32], "nice": false}, "axis": {"values": [0, 4, 8, 12, 16, 20, 24, 28, 32], "format": ".1f", "labelPadding": 5, "titlePadding": 14, "grid": false}, "title": "Concentración de CHL-a (ug/l)"}
          }
        },
        {
          "data": {"name": "der"},
          "transform": [{"filter": "indexof(datum.serie, 'verano') < 0"}],
          "mark": {"type": "line", "strokeWidth": 2},
          "encoding": {
            "x": {"field": "km", "type": "quantitative", "scale": {"domain": [0, 350], "nice": false}, "axis": {"values": [0, 50, 100, 150, 200, 250, 300, 350], "format": ".1f"}, "title": "Distancia desde la represa de Salto\u00a0 Grande (km)"},
            "y": {"field": "conc", "type": "quantitative", "scale": {"domain": [0, 32], "nice": false}, "axis": {"values": [0, 4, 8, 12, 16, 20, 24, 28, 32], "format": ".1f", "labelPadding": 5, "titlePadding": 14, "grid": false}, "title": "Concentración de CHL-a (ug/l)"},
            "color": {"field": "serie", "type": "nominal",
              "scale": {"domain": ["1500 m3/s", "5000 m3/s", "8000 m3/s", "1500 verano", "5000 verano", "8000 verano"], "range": ["#BE4B48", "#4F81BD", "#9BBB59", "#F79646", "#4BACC6", "#2FA05A"]},
              "legend": {"values": ["1500 m3/s", "5000 m3/s", "8000 m3/s"], "title": ["", "Linea punteada ->\u00a0\u00a0 VERANO", "Linea continua\u00a0\u00a0 -> INVIERNO"], "symbolDash": [1, 0]}},
            "detail": {"field": "tramo", "type": "nominal"}
          }
        },
        {
          "data": {"values": [{"conc": 15}]},
          "mark": {"type": "rule", "color": "#404040", "strokeWidth": 1.5},
          "encoding": {
            "y": {"field": "conc", "type": "quantitative", "scale": {"domain": [0, 32], "nice": false}, "axis": {"values": [0, 4, 8, 12, 16, 20, 24, 28, 32], "format": ".1f", "labelPadding": 5, "titlePadding": 14, "grid": false}, "title": "Concentración de CHL-a (ug/l)"}
          }
        },
        {
          "data": {"values": [{"conc": 15, "km": 344, "texto": "Condición de borde: 15 ug/l"}]},
          "mark": {"type": "text", "align": "right", "baseline": "middle", "dy": -18, "fontSize": 11, "fontWeight": "bold", "color": "#595959", "font": "Lato"},
          "encoding": {
            "x": {"field": "km", "type": "quantitative", "scale": {"domain": [0, 350], "nice": false}, "axis": {"values": [0, 50, 100, 150, 200, 250, 300, 350], "format": ".1f"}, "title": "Distancia desde la represa de Salto\u00a0 Grande (km)"},
            "y": {"field": "conc", "type": "quantitative", "scale": {"domain": [0, 32], "nice": false}, "axis": {"values": [0, 4, 8, 12, 16, 20, 24, 28, 32], "format": ".1f", "labelPadding": 5, "titlePadding": 14, "grid": false}, "title": "Concentración de CHL-a (ug/l)"},
            "text": {"field": "texto"}
          }
        }
      ]
    }
  ]
}
